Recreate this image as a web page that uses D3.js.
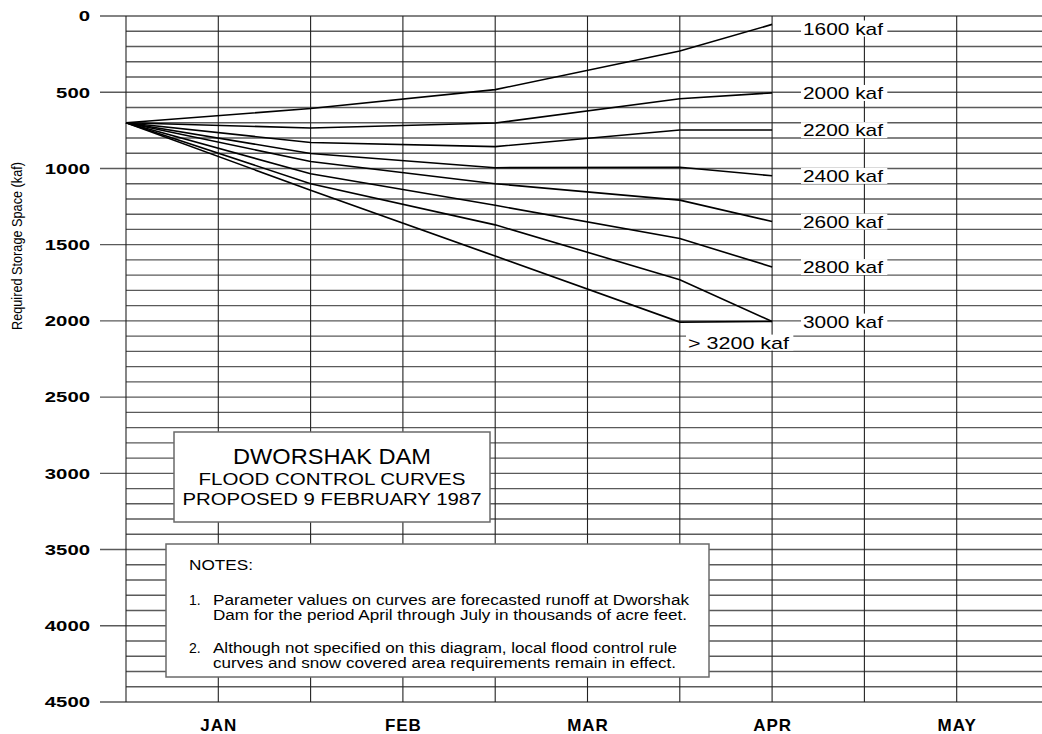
<!DOCTYPE html>
<html>
<head>
<meta charset="utf-8">
<script src="https://cdn.jsdelivr.net/npm/d3@7"></script>
<style>
  body { margin: 0; background: #fff; }
  svg { display: block; font-family: "Liberation Sans", Arial, sans-serif; }
</style>
</head>
<body>
<svg width="1042" height="734"></svg>
<script>
// half-month slots along the x axis (vertical grid lines)
var slots = ['Dec15', 'Jan1', 'Jan15', 'Feb1', 'Feb15', 'Mar1', 'Mar15', 'Apr1', 'Apr15', 'May1', 'May15'];
var monthSlots = ['Jan1', 'Feb1', 'Mar1', 'Apr1', 'May1'];
var monthLabels = ['JAN', 'FEB', 'MAR', 'APR', 'MAY'];

// dates where the curves have break points
var curveDates = ['Dec15', 'Jan15', 'Feb15', 'Mar15', 'Apr1'];

// required storage space (kaf) for each forecast runoff
var runoff1600 = [700, 607, 483, 230, 55];
var runoff2000 = [700, 735, 702, 543, 504];
var runoff2200 = [700, 830, 857, 748, 748];
var runoff2400 = [700, 902, 995, 992, 1048];
var runoff2600 = [700, 954, 1100, 1208, 1348];
var runoff2800 = [700, 1035, 1242, 1460, 1646];
var runoff3000 = [700, 1100, 1370, 1730, 2004];
var runoff3200 = [700, 1143, 1575, 2008, 2004];

var seriesNames = ['1600 kaf', '2000 kaf', '2200 kaf', '2400 kaf', '2600 kaf', '2800 kaf', '3000 kaf', '> 3200 kaf'];
var seriesValues = [runoff1600, runoff2000, runoff2200, runoff2400, runoff2600, runoff2800, runoff3000, runoff3200];

var yMajorTicks = d3.range(0, 4501, 500);
var yMinorTicks = d3.range(0, 4501, 100);

var titleLines = ['DWORSHAK DAM', 'FLOOD CONTROL CURVES', 'PROPOSED 9 FEBRUARY 1987'];
var noteLines = [
    'Parameter values on curves are forecasted runoff at Dworshak',
    'Dam for the period April through July in thousands of acre feet.',
    'Although not specified on this diagram, local flood control rule',
    'curves and snow covered area requirements remain in effect.'
];

var svg = d3.select('svg');
var svgWidth = +svg.attr('width');

var x = d3.scalePoint().domain(slots).range([126, 1049]);
var y = d3.scaleLinear().domain([0, 4500]).range([16, 702]);

// horizontal grid lines, every 100 kaf; the 500s stick out as ticks
var gridGroup = svg.append('g').attr('class', 'grid');
gridGroup.selectAll('line.h')
    .data(yMinorTicks)
    .enter().append('line')
    .attr('class', 'h')
    .attr('x1', function(d) { return d % 500 === 0 ? 100 : x('Dec15'); })
    .attr('x2', svgWidth)
    .attr('y1', function(d) { return y(d); })
    .attr('y2', function(d) { return y(d); })
    .attr('stroke', '#5a5a5a')
    .attr('stroke-width', 1.4);

// vertical grid lines, every half month
gridGroup.selectAll('line.v')
    .data(slots)
    .enter().append('line')
    .attr('class', 'v')
    .attr('x1', function(d) { return x(d); })
    .attr('x2', function(d) { return x(d); })
    .attr('y1', y(0))
    .attr('y2', y(4500))
    .attr('stroke', '#222')
    .attr('stroke-width', 1.1);

// y axis labels
var yAxis = d3.axisLeft(y).tickValues(yMajorTicks).tickSize(0).tickPadding(0)
    .tickFormat(d3.format('d'));
var yAxisG = svg.append('g')
    .attr('transform', 'translate(90,0)')
    .call(yAxis);
yAxisG.select('.domain').remove();
yAxisG.selectAll('text')
    .attr('font-family', '"Liberation Sans", Arial, sans-serif')
    .attr('font-size', 15)
    .attr('font-weight', 'bold')
    .attr('fill', '#000')
    .attr('textLength', function(d) { return String(d).length * 11.3; })
    .attr('lengthAdjust', 'spacingAndGlyphs');

// x axis month labels
var xAxis = d3.axisBottom(x).tickValues(monthSlots).tickSize(0).tickPadding(17)
    .tickFormat(function(d) { return monthLabels[monthSlots.indexOf(d)]; });
var xAxisG = svg.append('g')
    .attr('transform', 'translate(0,' + y(4500) + ')')
    .call(xAxis);
xAxisG.select('.domain').remove();
xAxisG.selectAll('text')
    .attr('font-family', '"Liberation Sans", Arial, sans-serif')
    .attr('font-size', 17)
    .attr('font-weight', 'bold')
    .attr('letter-spacing', 1)
    .attr('fill', '#000');

// y axis title
svg.append('text')
    .attr('transform', 'translate(22,246) rotate(-90)')
    .attr('text-anchor', 'middle')
    .attr('font-size', 15)
    .attr('textLength', 168)
    .attr('lengthAdjust', 'spacingAndGlyphs')
    .text('Required Storage Space (kaf)');

// flood control curves
var line = d3.line()
    .x(function(d, i) { return x(curveDates[i]); })
    .y(function(d) { return y(d); });

svg.append('g').selectAll('path')
    .data(seriesValues)
    .enter().append('path')
    .attr('d', line)
    .attr('fill', 'none')
    .attr('stroke', '#000')
    .attr('stroke-width', 1.6);

// curve labels on white boxes
var labelGroup = svg.append('g').attr('class', 'curveLabels');
seriesNames.forEach(function(name, i) {
    var vals = seriesValues[i];
    var last = vals[vals.length - 1];
    var isLast = i === seriesNames.length - 1;
    var lx = isLast ? 688 : 803;
    var ly = y(last) + (isLast ? 21 : 0) + (i === 0 ? 4 : 0);
    var g = labelGroup.append('g');
    var t = g.append('text')
        .attr('x', lx)
        .attr('y', ly)
        .attr('dy', '0.36em')
        .attr('font-size', 17)
        .attr('fill', '#000')
        .attr('textLength', isLast ? 101 : 80)
        .attr('lengthAdjust', 'spacingAndGlyphs')
        .text(name);
    var bb = t.node().getBBox();
    g.insert('rect', 'text')
        .attr('x', bb.x - 2)
        .attr('y', bb.y + 1)
        .attr('width', bb.width + 6)
        .attr('height', bb.height - 3)
        .attr('fill', '#fff');
});

// title box
var titleBox = svg.append('g');
titleBox.append('rect')
    .attr('x', 174).attr('y', 432)
    .attr('width', 316).attr('height', 90)
    .attr('fill', '#fff')
    .attr('stroke', '#6a6a6a')
    .attr('stroke-width', 1.5);
var titleSizes = [22, 17, 17];
var titleBaselines = [464, 485, 505];
var titleWidths = [198, 267, 299];
titleLines.forEach(function(txt, i) {
    titleBox.append('text')
        .attr('x', 332 - titleWidths[i] / 2)
        .attr('y', titleBaselines[i])
        .attr('font-size', titleSizes[i])
        .attr('textLength', titleWidths[i])
        .attr('lengthAdjust', 'spacingAndGlyphs')
        .text(txt);
});

// notes box
var notesBox = svg.append('g');
notesBox.append('rect')
    .attr('x', 166).attr('y', 544)
    .attr('width', 543).attr('height', 133)
    .attr('fill', '#fff')
    .attr('stroke', '#6a6a6a')
    .attr('stroke-width', 1.5);
notesBox.append('text')
    .attr('x', 189).attr('y', 570)
    .attr('font-size', 14)
    .attr('textLength', 64)
    .attr('lengthAdjust', 'spacingAndGlyphs')
    .text('NOTES:');
var noteBaselines = [605, 620, 653, 668];
var noteWidths = [476, 474, 464, 463];
notesBox.append('text').attr('x', 189).attr('y', 605).attr('font-size', 14).text('1.');
notesBox.append('text').attr('x', 189).attr('y', 653).attr('font-size', 14).text('2.');
noteLines.forEach(function(txt, i) {
    notesBox.append('text')
        .attr('x', 213)
        .attr('y', noteBaselines[i])
        .attr('font-size', 14)
        .attr('textLength', noteWidths[i])
        .attr('lengthAdjust', 'spacingAndGlyphs')
        .text(txt);
});
</script>
</body>
</html>
